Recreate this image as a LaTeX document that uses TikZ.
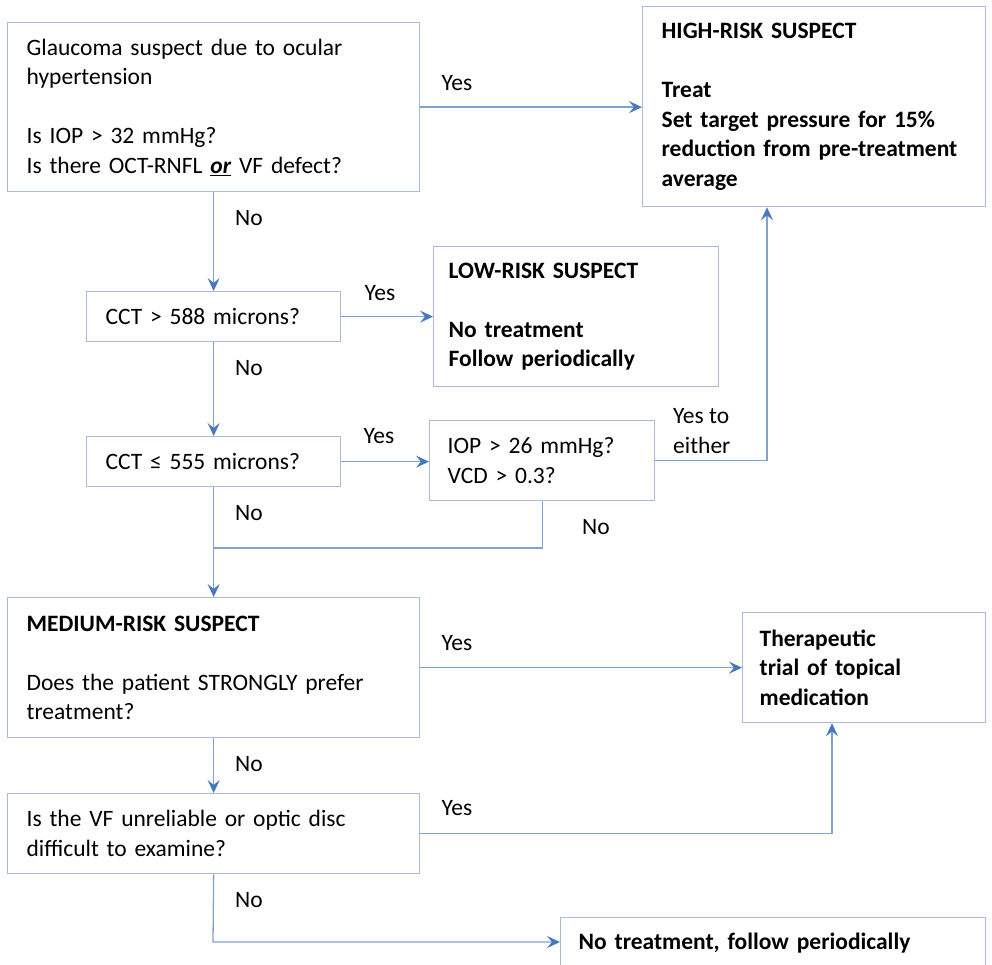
\documentclass[tikz,border=0pt]{standalone}
\usepackage{fontspec}
\setmainfont{Carlito}
\usetikzlibrary{arrows.meta}
\definecolor{boxc}{RGB}{168,188,216}
\definecolor{linec}{RGB}{130,162,206}
\definecolor{headc}{RGB}{70,120,192}
\newcommand{\fs}{\fontsize{23.5}{29.5}\selectfont}
\tikzset{
  box/.style={draw=boxc, line width=1.3pt, rectangle, anchor=north west, inner xsep=19pt, inner ysep=0pt, align=left, font=\fs},
  lbl/.style={font=\fs, inner sep=0pt},
  conn/.style={draw=linec, line width=1.3pt},
  arr/.style={conn, -{Stealth[length=13pt, width=12pt, inset=5pt, color=headc]}},
}
\newcommand{\bx}[6]{\node[box, minimum width=#3pt, minimum height=#4pt, text width=#3pt-38pt, #5] (#1) at (#2) {#6};}
\begin{document}
\begin{tikzpicture}[x=1pt, y=-1pt]
\useasboundingbox (0,0) rectangle (992,965);
\bx{a}{7,22}{412}{169}{}{Glaucoma suspect due to ocular\\hypertension\\[29.5pt]Is IOP > 32 mmHg?\\Is there OCT-RNFL \underline{\textbf{\textit{or}}} VF defect?}
\bx{high}{642,6}{343}{200}{font=\fs\bfseries}{HIGH-RISK SUSPECT\\[29.5pt]Treat\\Set target pressure for 15\%\\reduction from pre-treatment\\average}
\bx{cct1}{86,291}{254}{50}{}{CCT > 588 microns?}
\bx{low}{433,246}{285}{140}{font=\fs\bfseries, inner xsep=15pt, text width=255pt}{LOW-RISK SUSPECT\\[29.5pt]No treatment\\Follow periodically}
\bx{cct2}{86,436}{254}{50}{}{CCT ≤ 555 microns?}
\bx{iop}{429,420}{225}{80}{inner xsep=18pt, text width=189pt}{IOP > 26 mmHg?\\VCD > 0.3?}
\bx{med}{7,597}{412}{140}{}{\textbf{MEDIUM-RISK SUSPECT}\\[29.5pt]Does the patient STRONGLY prefer\\treatment?}
\bx{ther}{742,612}{243}{110}{font=\fs\bfseries, inner xsep=17pt, text width=209pt}{Therapeutic\\trial of topical\\medication}
\bx{vf}{7,793}{412}{80}{}{Is the VF unreliable or optic disc\\difficult to examine?}
\bx{last}{560,917}{425}{51}{font=\fs\bfseries, inner xsep=18pt, text width=389pt}{No treatment, follow periodically}

\coordinate (yj) at (767,0);
\coordinate (nj) at (213,548);
\coordinate (vj) at (832,0);
\coordinate (lj) at (213,942);

\draw[arr] (a.east) -- (a.east -| high.west);
\draw[arr] (a.south) -- (cct1.north);
\draw[arr] (cct1.east) -- (cct1.east -| low.west);
\draw[arr] (cct1.south) -- (cct2.north);
\draw[arr] (cct2.east) -- (cct2.east -| iop.west);
\draw[arr] (iop.east) -- (iop.east -| yj) -- (yj |- high.south);
\draw[conn] (iop.south) |- (nj);
\draw[arr] (cct2.south) -- (med.north);
\draw[arr] (med.east) -- (med.east -| ther.west);
\draw[arr] (med.south) -- (vf.north);
\draw[arr] (vf.east) -- (vf.east -| vj) -- (vj |- ther.south);
\draw[arr] (vf.south) -- (lj) -- (lj -| last.west);

\node[lbl] (y1) at (457,83) {Yes};
\node[lbl] (n1) at (249,218) {No};
\node[lbl] (y2) at (380,293) {Yes};
\node[lbl] (n2) at (249,368) {No};
\node[lbl] (y3) at (379,436) {Yes};
\node[lbl, align=left, anchor=west] (y4) at (673,431) {Yes to\\either};
\node[lbl] (n3) at (596,527) {No};
\node[lbl] (n4) at (249,513) {No};
\node[lbl] (y5) at (457,643) {Yes};
\node[lbl] (n5) at (249,764) {No};
\node[lbl] (y6) at (457,808) {Yes};
\node[lbl] (n6) at (249,900) {No};
\end{tikzpicture}
\end{document}
